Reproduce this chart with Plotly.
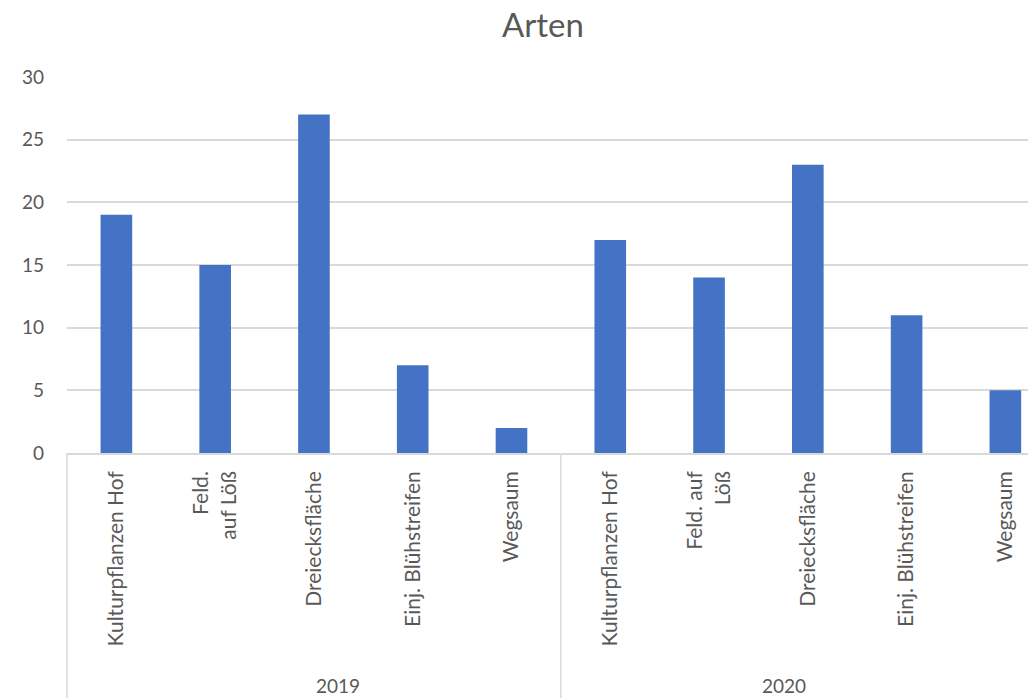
import plotly.graph_objects as go

years = ["2019", "2020"]
sites_2019 = ["Kulturpflanzen Hof", "Feld.<br>auf Löß", "Dreiecksfläche", "Einj. Blühstreifen", "Wegsaum"]
sites_2020 = ["Kulturpflanzen Hof", "Feld. auf<br>Löß", "Dreiecksfläche", "Einj. Blühstreifen", "Wegsaum"]
arten_2019 = [19, 15, 27, 7, 2]
arten_2020 = [17, 14, 23, 11, 5]

labels = sites_2019 + sites_2020
values = arten_2019 + arten_2020
keys = [f"{y}|{i}" for y, grp in zip(years, [sites_2019, sites_2020]) for i in range(len(grp))]

grey_text = "#595959"
grid = "#d9d9d9"
font = "Lato, Noto Sans, sans-serif"

# the page body adds an 8px offset, so margins are shifted by that amount
W, H = 1036, 698
left, top, right = 59, 69, 8
plot_h = 376
bottom = H - top - plot_h
# chart is cut off on the right: only ~9.8 of 10 slots are visible
r0, r1 = -0.5, 9.31

fig = go.Figure(
    go.Bar(x=keys, y=values, marker=dict(color="#4472C4", line_width=0), width=0.32)
)

def to_paper(v):
    return (v - r0) / (r1 - r0)

shapes = []
annotations = []
n = len(sites_2019)
for g, y in enumerate(years):
    start = g * n - 0.5
    shapes.append(dict(type="line", xref="paper", yref="paper",
                       x0=to_paper(start), x1=to_paper(start), y0=0, y1=-245 / plot_h,
                       line=dict(color=grid, width=1.5)))
    annotations.append(dict(text=y, xref="paper", yref="paper", x=to_paper(start + n / 2),
                            y=-232 / plot_h, yanchor="middle",
                            showarrow=False, font=dict(size=19, color=grey_text, family=font)))

fig.update_layout(
    width=W, height=H,
    margin=dict(l=left, r=right, t=top, b=bottom),
    plot_bgcolor="white", paper_bgcolor="white",
    title=dict(text="Arten", x=535 / W, xanchor="center", xref="container", y=1 - 17 / H, yanchor="middle",
               font=dict(size=33, color=grey_text, family=font)),
    showlegend=False,
    shapes=shapes,
    annotations=annotations,
    font=dict(family=font, color=grey_text, size=19),
)
fig.update_xaxes(
    type="category", range=[r0, r1], tickmode="array", tickvals=keys, ticktext=labels,
    tickangle=-90, showline=True, linecolor=grid, linewidth=1.5, showgrid=False, automargin=False,
    ticks="", ticklabelstandoff=8, tickfont=dict(size=21, color=grey_text, family=font),
)
fig.update_yaxes(
    range=[0, 30], dtick=5, showgrid=True, gridcolor=grid, gridwidth=1.5, zeroline=False, automargin=False,
    showline=False, ticks="", ticklabelstandoff=22, tickfont=dict(size=19, color=grey_text, family=font),
)

fig.write_html("out.html")
